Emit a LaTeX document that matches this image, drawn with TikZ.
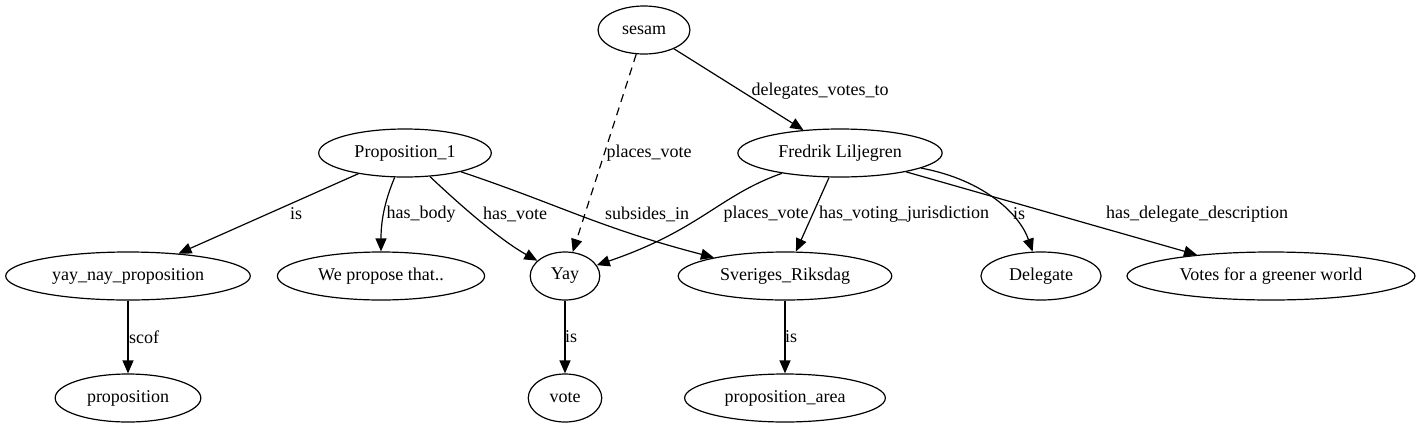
\documentclass[tikz,border=0pt]{standalone}
\usepackage{fontspec}
\setmainfont{Liberation Serif}
\usetikzlibrary{shapes.geometric,arrows.meta}
\begin{document}
\begin{tikzpicture}
		[x=1pt, y=-1pt,
		mynode/.style={
			ellipse,
			draw,
			line width=1.2pt,
			inner xsep=10.5pt,
			inner ysep=0pt,
			minimum height=48pt,
			font=\fontsize{18}{21}\selectfont
		},
		mylabel/.style={inner sep=0pt, font=\fontsize{18}{21}\selectfont},
		myarrow/.style={line width=1.2pt, -{Triangle[length=13pt,width=11pt]}}]
		\useasboundingbox (0,0) rectangle (1424,429);
		% top row
		\node[mynode] (sesam) at (644,30) {sesam};
		\node[mynode] (prop1) at (405,153) {Proposition\_1};
		\node[mynode] (fredrik) at (840,153) {Fredrik Liljegren};
		% middle row
		\node[mynode] (yaynay) at (128,276) {yay\_nay\_proposition};
		\node[mynode] (wepropose) at (381,276) {We propose that..};
		\node[mynode] (yay) at (565,276) {Yay};
		\node[mynode] (riksdag) at (785,276) {Sveriges\_Riksdag};
		\node[mynode] (delegate) at (1041,276) {Delegate};
		\node[mynode] (greener) at (1271,276) {Votes for a greener world};
		% bottom row
		\node[mynode] (proposition) at (128,398) {proposition};
		\node[mynode] (vote) at (565,398) {vote};
		\node[mynode] (proparea) at (785,398) {proposition\_area};
		% edges
		\draw[myarrow, dashed, dash pattern=on 8pt off 6pt] (sesam) -- (yay) node[mylabel] at (649,153) {places\_vote};
		\draw[myarrow] (sesam) -- (fredrik) node[mylabel] at (820,91) {delegates\_votes\_to};
		\draw[myarrow] (prop1) -- (yaynay) node[mylabel] at (296,214) {is};
		\draw[myarrow] (prop1) .. controls (383,205) and (381,225) .. (wepropose) node[mylabel] at (421,214) {has\_body};
		\draw[myarrow] (prop1) .. controls (460,205) and (500,240) .. (yay) node[mylabel] at (515,214) {has\_vote};
		\draw[myarrow] (prop1) .. controls (560,205) and (600,228) .. (riksdag) node[mylabel] at (647,214) {subsides\_in};
		\draw[myarrow] (fredrik) .. controls (720,195) and (700,230) .. (yay) node[mylabel] at (766,214) {places\_vote};
		\draw[myarrow] (fredrik) -- (riksdag) node[mylabel] at (904,214) {has\_voting\_jurisdiction};
		\draw[myarrow] (fredrik) .. controls (985,180) and (1020,215) .. (delegate) node[mylabel] at (1019,214) {is};
		\draw[myarrow] (fredrik) -- (greener) node[mylabel] at (1197,214) {has\_delegate\_description};
		\draw[myarrow] (yaynay) -- (proposition) node[mylabel] at (144,337) {scof};
		\draw[myarrow] (yay) -- (vote) node[mylabel] at (571,337) {is};
		\draw[myarrow] (riksdag) -- (proparea) node[mylabel] at (791,337) {is};
	\end{tikzpicture}
\end{document}
